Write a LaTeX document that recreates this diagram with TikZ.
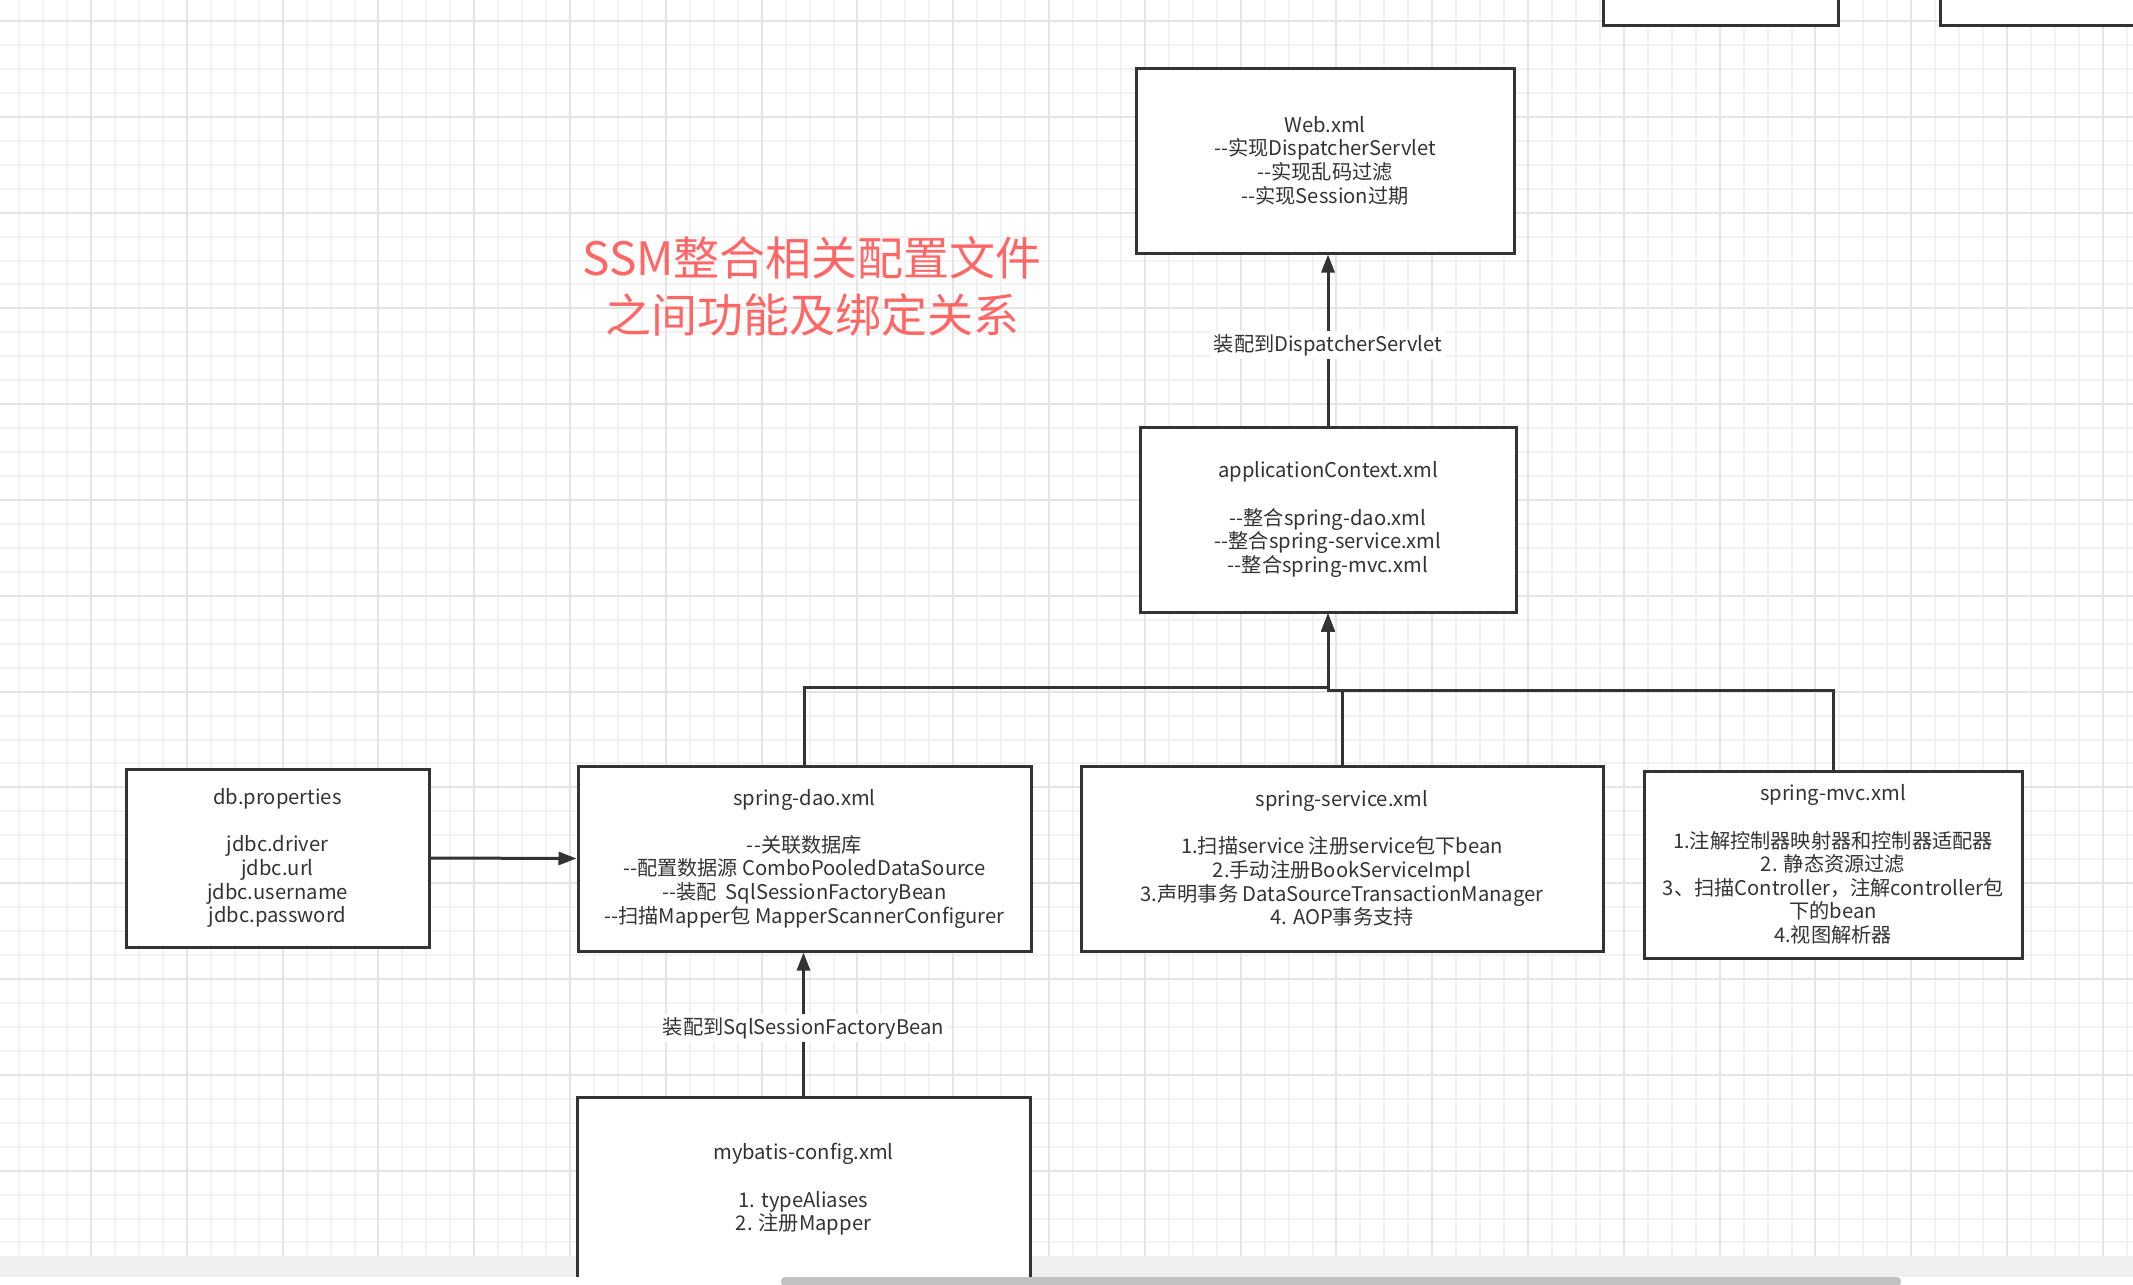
\documentclass[tikz,border=0pt]{standalone}
\usepackage{fontspec}
\setmainfont{Noto Sans CJK SC}[Ligatures=TeXOff]
\usetikzlibrary{arrows.meta}
\definecolor{gridminor}{HTML}{F2F2F2}
\definecolor{gridmajor}{HTML}{E4E4E4}
\definecolor{boxline}{HTML}{333333}
\definecolor{titlered}{HTML}{FF6666}
\definecolor{band}{HTML}{F0F0F0}
\definecolor{sbar}{HTML}{C1C1C1}
\begin{document}
\begin{tikzpicture}[x=0.5pt,y=-0.5pt,
  box/.style={draw=boxline,line width=1.5pt,fill=white,inner sep=0pt,align=center,
    font=\fontsize{10.1}{11.8}\selectfont,text=boxline},
  conn/.style={draw=boxline,line width=1.5pt,-{Triangle[length=9pt,width=6.5pt]}},
  lbl/.style={fill=white,inner sep=1.5pt,text=boxline,font=\fontsize{10.1}{11.8}\selectfont},
  title/.style={text=titlered,align=center,font=\fontsize{23}{28.5}\selectfont}]
\useasboundingbox (0,0) rectangle (2133,1285);
\clip (0,0) rectangle (2133,1285);
\fill[white] (0,0) rectangle (2133,1285);
% grid
\foreach \i in {0,...,88} {
  \draw[gridminor,line width=1pt] ({19.2+\i*23.95},0) -- ({19.2+\i*23.95},1256);
}
\foreach \i in {0,...,52} {
  \draw[gridminor,line width=1pt] (0,{21+\i*23.95}) -- (2133,{21+\i*23.95});
}
\foreach \i in {0,...,21} {
  \draw[gridmajor,line width=1pt] ({91+\i*95.8},0) -- ({91+\i*95.8},1256);
}
\foreach \i in {0,...,13} {
  \draw[gridmajor,line width=1pt] (0,{21+\i*95.8}) -- (2133,{21+\i*95.8});
}
\fill[band] (0,1256) rectangle (2133,1277);
% title
\node[title] (ttl) at (812,286.5) {SSM整合相关配置文件\\之间功能及绑定关系};
% boxes
\node[box,minimum width=117.5pt,minimum height=92.5pt] (top1) at (1720.5,-67.5) {};
\node[box,minimum width=180pt,minimum height=92.5pt] (top2) at (2120,-67.5) {};
\node[box,minimum width=189pt,minimum height=92.5pt] (web) at (1325,160.5)
  {Web.xml\\--实现DispatcherServlet\\--实现乱码过滤\\--实现Session过期};
\node[box,minimum width=188pt,minimum height=92.5pt] (app) at (1328,519.5)
  {applicationContext.xml\\\mbox{}\\--整合spring-dao.xml\\--整合spring-service.xml\\--整合spring-mvc.xml};
\node[box,minimum width=151.5pt,minimum height=89pt] (db) at (277.5,858)
  {db.properties\\\mbox{}\\jdbc.driver\\jdbc.url\\jdbc.username\\jdbc.password};
\node[box,minimum width=226.5pt,minimum height=92.5pt] (dao) at (804.5,858.5)
  {spring-dao.xml\\\mbox{}\\--关联数据库\\--配置数据源 ComboPooledDataSource\\--装配\ \ SqlSessionFactoryBean\\--扫描Mapper包 MapperScannerConfigurer};
\node[box,minimum width=261pt,minimum height=92.5pt] (svc) at (1342,858.5)
  {spring-service.xml\\\mbox{}\\1.扫描service 注册service包下bean\\2.手动注册BookServiceImpl\\3.声明事务 DataSourceTransactionManager\\4. AOP事务支持};
\node[box,minimum width=189pt,minimum height=93.5pt] (mvc) at (1833,864.5)
  {spring-mvc.xml\\\mbox{}\\1.注解控制器映射器和控制器适配器\\2. 静态资源过滤\\3、扫描Controller，注解controller包\\下的bean\\4.视图解析器};
\node[box,minimum width=226.5pt,minimum height=92.5pt] (myb) at (803.5,1189.5)
  {mybatis-config.xml\\\mbox{}\\1. typeAliases\\2. 注册Mapper};
% connectors
\draw[conn] (app.north) -- (app.north |- web.south)
  node[lbl,pos=0.47] {装配到DispatcherServlet};
\draw[conn] (dao.north) -- ++(0,-77) -| (app.south);
\draw[conn] (svc.north) -- ++(0,-74) -| (app.south);
\draw[conn] (mvc.north) -- ++(0,-79) -| (app.south);
\draw[conn] (db.east) -- (dao.west);
\draw[conn] (myb.north) -- (myb.north |- dao.south)
  node[lbl,pos=0.47] {装配到SqlSessionFactoryBean};
% bottom strip
\fill[white] (0,1277) rectangle (2133,1285);
\fill[sbar,rounded corners=2pt] (781,1277) rectangle (1901,1286);
\end{tikzpicture}
\end{document}
